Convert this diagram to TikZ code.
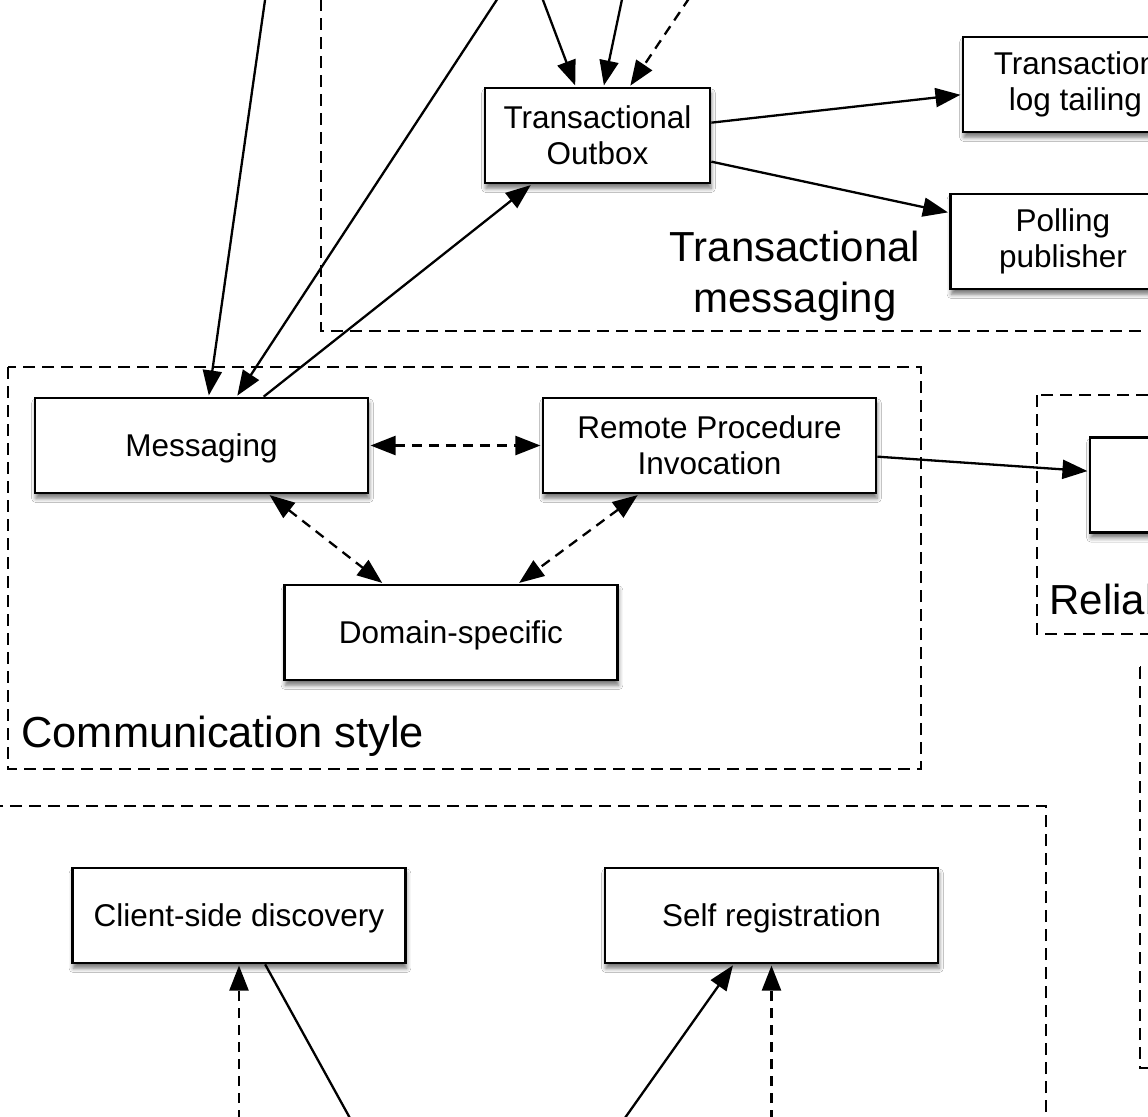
\documentclass[tikz,border=0pt]{standalone}
\usepackage{fontspec}
\setmainfont{Liberation Sans}
\usetikzlibrary{arrows.meta,shadows.blur,calc}
\begin{document}
\begin{tikzpicture}[x=0.5pt,y=-0.5pt,
  box/.style={draw,line width=1.35pt,fill=white,minimum width=166.5pt,minimum height=47.5pt,
    inner sep=0pt,align=center,font=\fontsize{15.75}{18}\selectfont,
    blur shadow={shadow xshift=0.5pt,shadow yshift=-2.6pt,shadow blur radius=2.2pt,shadow opacity=55}},
  one/.style={text depth=0pt},
  sbox/.style={box,minimum width=112.5pt},
  cont/.style={draw,line width=1pt,dash pattern=on 6pt off 3.5pt},
  big/.style={font=\fontsize{21}{25.5}\selectfont,inner sep=0pt},
  arr/.style={-{Triangle[length=12.5pt,width=9.5pt]},line width=1.15pt,shorten >=0.6pt},
  darr/.style={arr,dash pattern=on 5pt off 3.5pt},
  dbl/.style={{Triangle[length=12.5pt,width=9.5pt]}-{Triangle[length=12.5pt,width=9.5pt]},line width=1.15pt,dash pattern=on 5pt off 3.5pt,shorten >=0.6pt,shorten <=0.6pt},
  plain/.style={line width=1.15pt}]
\useasboundingbox (0,0) rectangle (1148,1116);
\clip (0,0) rectangle (1148,1116);
\fill[white] (0,0) rectangle (1148,1116);

% containers
\draw[cont] (321,-20) rectangle (1300,331);
\draw[cont] (8,367) rectangle (921,769);
\draw[cont] (1037,395) rectangle (1300,634);
\draw[cont] (1140,667) rectangle (1300,1068);
\draw[cont] (-20,806) rectangle (1046,1300);

% labels
\node[big,align=center,anchor=north] (lbltm) at (795,231) {Transactional\\messaging};
\node[big,font=\fontsize{21.7}{26}\selectfont,anchor=base west] (lblcs) at (21,747) {Communication style};
\node[big,anchor=base west] (lblrc) at (1049,614) {Reliable communications};

% boxes
\node[sbox] (outbox) at (597.5,135.5) {Transactional\\Outbox};
\node[sbox] (logt) at (1075.5,84.5) {Transaction\\log tailing};
\node[sbox] (poll) at (1063,241.5) {Polling\\publisher};
\node[box,one] (msg) at (201.5,445.5) {Messaging};
\node[box] (rpi) at (709.5,445.5) {Remote Procedure\\Invocation};
\node[box,one] (dom) at (451,632.5) {Domain-specific};
\node[box] (rel) at (1256.5,485) {};
\node[box,one] (csd) at (239,915.5) {Client-side discovery};
\node[box,one] (selfreg) at (771.5,915.5) {Self registration};

% free ends
\coordinate (t1) at (265.3,-2);
\coordinate (t2) at (498,-2);
\coordinate (t3) at (542.2,-2);
\coordinate (t4) at (622.3,-2);
\coordinate (t5) at (689.3,-2);
\coordinate (b1) at (239,1120);
\coordinate (b2) at (351,1120);
\coordinate (b3) at (623.5,1120);
\coordinate (b4) at (771.5,1120);

% connectors top
\draw[arr] (t1) -- ($(msg.north west)+(175,0)$);
\draw[arr] (t2) -- ($(msg.north west)+(203,0)$);
\draw[arr] ($(msg.north west)+(230,0)$) -- ($(outbox.south west)+(48,0)$);
\draw[arr] (t3) -- ($(outbox.north west)+(92,0)$);
\draw[arr] (t4) -- ($(outbox.north west)+(120,0)$);
\draw[darr] (t5) -- ($(outbox.north west)+(146,0)$);
\draw[arr] ($(outbox.north east)+(0,36)$) -- ($(logt.north west)+(0,59)$);
\draw[arr] ($(outbox.north east)+(0,75)$) -- ($(poll.north west)+(0,20)$);
\draw[arr] ($(rpi.north east)+(0,60)$) -- ($(rel.north west)+(0,35)$);

% communication style
\draw[dbl] (msg.east) -- (rpi.west);
\draw[dbl] ($(msg.south west)+(235,0)$) -- ($(dom.north west)+(100,0)$);
\draw[dbl] ($(rpi.south west)+(97,0)$) -- ($(dom.north west)+(235,0)$);

% bottom
\draw[darr] (b1) -- (csd.south);
\draw[plain] ($(csd.south west)+(194,0)$) -- (b2);
\draw[arr] (b3) -- ($(selfreg.south west)+(130,0)$);
\draw[darr] (b4) -- (selfreg.south);
\end{tikzpicture}
\end{document}
